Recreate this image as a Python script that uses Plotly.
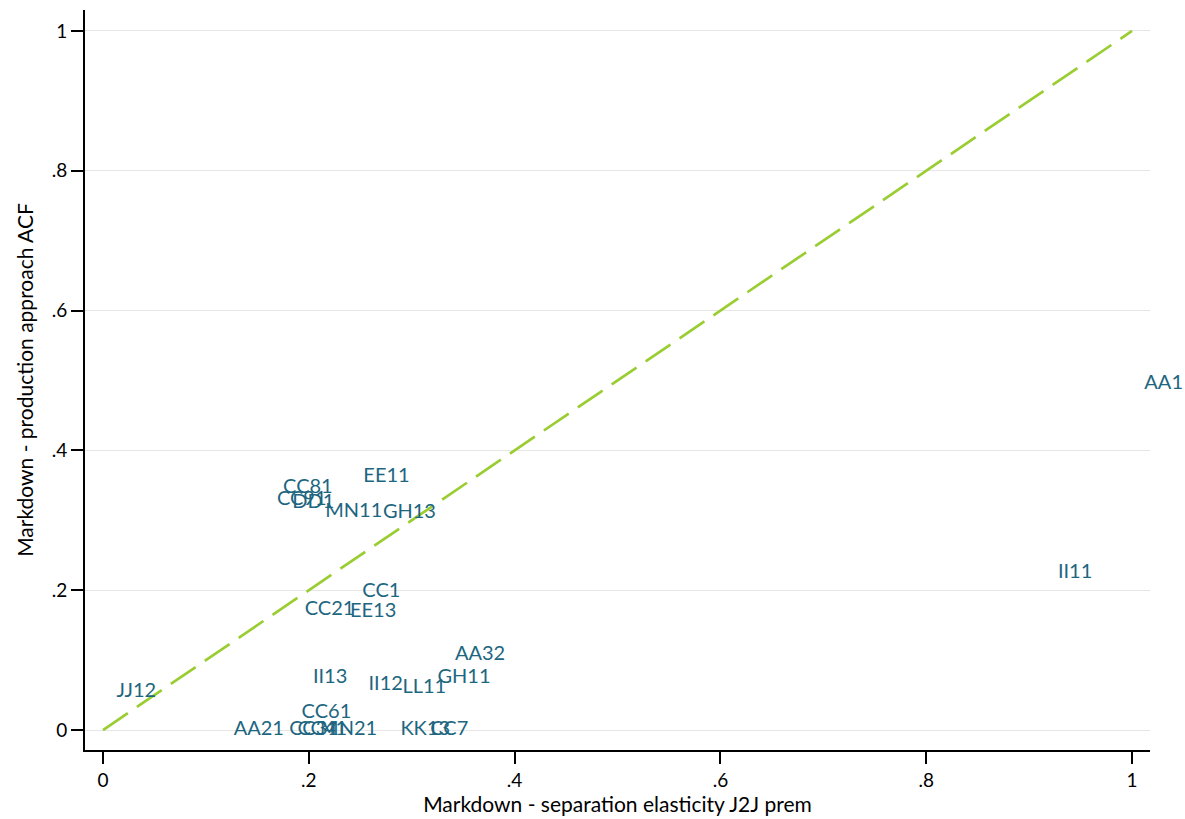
import plotly.graph_objects as go

# Markdown estimates by industry: separation-elasticity (J2J premium) vs production approach (ACF)
industries = ["AA1", "II11", "JJ12", "AA21", "CC61", "CC31", "CC41", "MN21", "KK13", "CC7",
              "II13", "II12", "LL11", "GH11", "AA32", "CC21", "CC1", "EE13",
              "CC81", "CC91", "DD1", "MN11", "GH13", "EE11"]
markdown_j2j = [1.012, 0.928, 0.013, 0.127, 0.193, 0.181, 0.189, 0.211, 0.289, 0.318,
                0.204, 0.258, 0.291, 0.325, 0.342, 0.196, 0.252, 0.240,
                0.175, 0.169, 0.184, 0.216, 0.272, 0.253]
markdown_acf = [0.495, 0.225, 0.054, 0.000, 0.024, 0.000, 0.000, 0.000, 0.000, 0.000,
                0.074, 0.064, 0.060, 0.074, 0.107, 0.172, 0.197, 0.169,
                0.346, 0.329, 0.325, 0.312, 0.310, 0.362]

# 45-degree reference line
diag = [0, 1]

tick_vals = [0, 0.2, 0.4, 0.6, 0.8, 1]
tick_text = ["0", ".2", ".4", ".6", ".8", "1"]

label_color = "#1d6680"
font_family = "Lato, 'Liberation Sans', sans-serif"

fig = go.Figure()

fig.add_trace(go.Scatter(
    x=diag, y=diag, mode="lines",
    line=dict(color="#9acd32", width=2.7, dash="30px,11px"),
    hoverinfo="skip", showlegend=False,
))

fig.add_trace(go.Scatter(
    x=markdown_j2j, y=markdown_acf, mode="text",
    text=industries, textposition="middle right",
    textfont=dict(family=font_family, size=20, color=label_color),
    cliponaxis=False, showlegend=False,
))

axis_common = dict(
    showline=True, linecolor="black", linewidth=1.8,
    ticks="outside", ticklen=12, tickcolor="black", tickwidth=1.5,
    tickvals=tick_vals, ticktext=tick_text,
    tickfont=dict(family=font_family, size=19, color="black"),
    zeroline=False, mirror=False,
)

fig.update_xaxes(
    **axis_common,
    range=[-0.0175, 1.0175], showgrid=False,
    title=dict(text="Markdown - separation elasticity J2J prem",
               font=dict(family=font_family, size=21, color="black"), standoff=0),
)
fig.update_yaxes(
    **axis_common,
    range=[-0.0286, 1.03], showgrid=True, gridcolor="#e6e6e6", gridwidth=1,
    title=dict(text="Markdown - production approach ACF",
               font=dict(family=font_family, size=21, color="black"), standoff=12),
)

fig.update_layout(
    width=1185, height=819,
    margin=dict(l=85, r=35, t=10, b=69),
    paper_bgcolor="white", plot_bgcolor="white",
    hovermode=False,
)

fig.write_html("out.html")
